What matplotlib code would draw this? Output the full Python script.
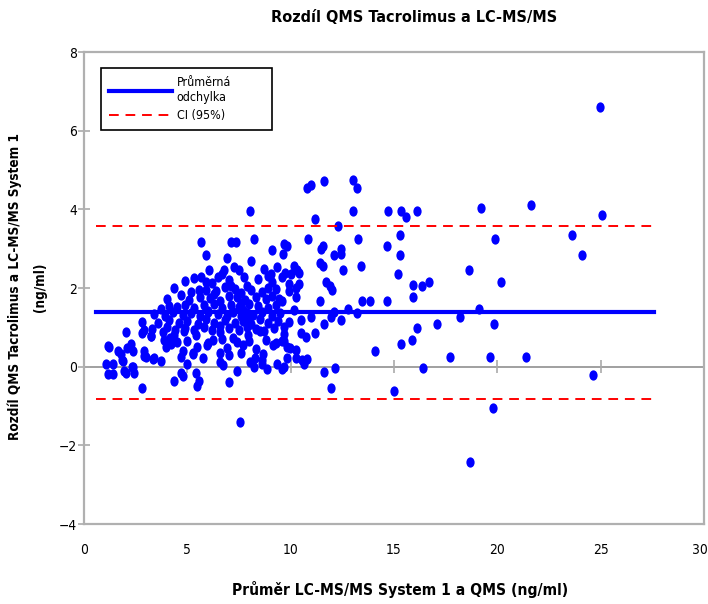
import matplotlib
matplotlib.use('Agg')
import matplotlib.pyplot as plt
from matplotlib.path import Path
import matplotlib.transforms as mtrans
from matplotlib import font_manager

# Bland-Altman data: average of the two methods (x) vs. difference (y)
avg = [
    # sparse part, x > ~9.5
    24.98, 10.77, 10.97, 11.63, 13.01, 13.20, 11.20, 12.30, 13.00, 14.70,
    15.35, 15.60, 16.09, 19.20, 21.64, 25.06, 10.85, 13.27, 15.31, 19.90,
    23.60, 24.10, 9.70, 9.65, 11.45, 11.58, 12.10, 12.42, 12.42, 14.64,
    15.27, 11.42, 11.58, 10.16, 10.40, 9.71, 12.55, 13.38, 15.18, 18.63,
    20.18, 11.69, 11.90, 12.01, 15.92, 16.35, 16.70, 15.92, 9.92, 10.40,
    10.24, 9.60, 11.40, 13.43, 13.86, 14.64, 10.16, 12.09, 11.93, 12.79,
    13.20, 19.10, 18.20, 10.48, 10.97, 12.42, 17.10, 19.84, 11.63, 9.68,
    9.68, 16.09, 11.16, 10.48, 10.72, 14.10, 15.36, 15.85, 9.84, 10.24,
    9.68, 17.73, 19.65, 21.40, 10.56, 10.64, 9.68, 11.63, 12.14, 16.41,
    11.95, 15.00, 24.65, 19.77, 18.68, 10.27, 10.80, 10.28,
    # left / middle part
    7.54, 8.02, 5.65, 5.89, 7.13, 7.34, 8.23, 9.08, 9.80, 6.94,
    8.07, 6.05, 6.77, 7.26, 7.50, 7.74, 8.71, 9.03, 9.36, 9.60,
    10.00, 10.32, 5.65, 5.89, 6.46, 6.70, 9.28, 9.43, 4.36, 4.69,
    5.17, 5.57, 4.12, 3.72, 3.40, 2.83, 2.91, 2.03, 1.22, 1.63,
    1.79, 2.27, 2.35, 1.87, 1.06, 1.39, 1.14, 1.39, 1.95, 2.35,
    2.43, 2.83, 3.00, 3.32, 3.72, 2.91, 3.24, 3.80, 3.96, 4.20,
    4.36, 4.77, 4.69, 5.00, 5.25, 5.49, 5.41, 5.57, 5.49, 7.02,
    7.42, 8.23, 8.63, 8.87, 9.36, 9.60, 1.15, 2.09, 1.85, 2.33,
    2.02, 2.82, 3.22, 2.89, 3.37, 3.86, 4.18, 4.34, 4.83, 4.67,
    6.57, 6.74, 8.02, 8.26, 8.59, 9.80, 5.44, 5.93, 6.25, 6.90,
    7.22, 7.70, 7.94, 8.51, 8.67, 9.15, 9.56, 9.95, 5.28, 5.77,
    6.57,
    # dense core
    4.9, 5.3, 6.2, 7.0, 7.9, 8.4, 9.1, 8.9,
    5.9, 6.4, 6.8, 7.3, 7.6, 8.1, 8.6, 8.9, 9.9, 7.1,
    4.0, 5.1, 5.6, 6.1, 6.6, 7.0, 7.4, 7.8, 8.3, 8.8, 9.1, 6.3, 7.6,
    4.5, 4.9, 5.3, 5.8, 6.3, 6.7, 7.1, 7.5, 7.7, 8.0, 8.4, 8.9, 9.3, 6.0,
    3.9, 4.3, 4.8, 5.2, 5.6, 6.0, 6.5, 6.9, 7.2, 7.6, 7.9, 8.2, 8.6, 9.1, 9.5, 8.0,
    3.6, 4.1, 4.6, 5.0, 5.5, 5.9, 6.3, 6.8, 7.3, 7.7, 8.1, 8.5, 8.9, 9.4, 9.9, 6.6,
    3.3, 4.0, 4.4, 4.9, 5.3, 5.8, 6.2, 6.6, 7.0, 7.5, 7.9, 8.3, 8.7, 9.2,
    4.5, 5.0, 6.0, 6.7, 7.4, 8.0, 8.8, 9.3, 4.8, 7.0, 7.6, 8.3,
]
diff = [
    6.61, 4.55, 4.62, 4.72, 4.74, 4.54, 3.76, 3.58, 3.95, 3.95,
    3.95, 3.80, 3.95, 4.03, 4.12, 3.85, 3.24, 3.24, 3.34, 3.24,
    3.34, 2.84, 3.12, 2.87, 3.00, 3.08, 2.84, 2.87, 3.00, 3.07,
    2.85, 2.63, 2.56, 2.57, 2.38, 2.38, 2.45, 2.56, 2.36, 2.45,
    2.14, 2.15, 2.05, 1.95, 2.08, 2.06, 2.14, 1.77, 2.10, 2.10,
    1.77, 1.68, 1.68, 1.68, 1.68, 1.68, 1.43, 1.38, 1.26, 1.47,
    1.37, 1.47, 1.26, 1.19, 1.26, 1.19, 1.09, 1.09, 1.09, 1.00,
    0.83, 0.99, 0.85, 0.86, 0.75, 0.41, 0.58, 0.68, 0.49, 0.43,
    0.66, 0.25, 0.25, 0.25, 0.17, 0.07, -0.02, -0.13, -0.03, -0.03,
    -0.53, -0.62, -0.20, -1.04, -2.42, 2.00, 0.20, 0.22,
    -1.40, 3.95, 3.17, 2.85, 3.17, 3.17, 3.25, 2.97, 3.08, 2.77,
    2.68, 2.47, 2.45, 2.53, 2.45, 2.28, 2.49, 2.36, 2.53, 2.28,
    2.36, 2.45, 2.28, 2.15, 2.28, 2.36, 1.98, 1.72, 2.00, 1.81,
    1.89, 1.94, 1.55, 1.47, 1.34, 1.13, 0.92, 0.87, 0.49, 0.41,
    0.32, 0.58, 0.41, 0.15, 0.07, 0.07, -0.19, -0.19, -0.10, -0.02,
    -0.15, -0.53, 0.24, 0.20, 0.15, 0.41, 0.79, 0.87, 0.49, 0.58,
    -0.36, -0.23, 0.24, 0.07, 0.32, 0.49, -0.15, -0.36, -0.48, -0.40,
    -0.10, -0.02, 0.07, -0.06, 0.07, -0.06, 0.52, 0.48, 0.18, 0.00,
    -0.16, 0.85, 0.77, 0.26, 0.22, 0.69, 0.73, 0.81, 0.90, -0.16,
    0.13, 0.05, 0.13, 0.22, 0.18, 0.22, 0.81, 0.56, 0.69, 0.48,
    0.73, 0.56, 0.81, 0.90, 0.31, 0.56, 0.64, 0.48, 0.35, 0.22,
    0.35,
    2.18, 2.25, 2.12, 2.20, 2.05, 2.22, 2.15, 2.30,
    1.95, 1.92, 2.02, 1.98, 1.88, 1.96, 1.90, 2.00, 1.92, 2.05,
    1.72, 1.70, 1.78, 1.74, 1.68, 1.80, 1.76, 1.70, 1.78, 1.72, 1.80, 1.85, 1.62,
    1.52, 1.58, 1.50, 1.56, 1.60, 1.48, 1.58, 1.52, 1.44, 1.60, 1.54, 1.50, 1.58, 1.42,
    1.30, 1.38, 1.32, 1.36, 1.28, 1.40, 1.34, 1.30, 1.38, 1.28, 1.36, 1.32, 1.40, 1.30, 1.36, 1.22,
    1.12, 1.18, 1.10, 1.16, 1.08, 1.20, 1.12, 1.18, 1.10, 1.16, 1.08, 1.20, 1.12, 1.16, 1.14, 1.04,
    0.96, 1.00, 0.92, 0.98, 0.94, 1.00, 0.92, 0.88, 0.98, 0.94, 1.00, 0.96, 0.90, 0.98,
    0.62, 0.66, 0.60, 0.70, 0.62, 0.66, 0.68, 0.60, 0.40, 0.30, 0.36, 0.44,
]

mean_diff = 1.38
ci_low = -0.82
ci_high = 3.58
line_x = [0.6, 27.6]

xticks = [0, 5, 10, 15, 20, 25, 30]
yticks = [-4, -2, 0, 2, 4, 6, 8]

# the original uses a bold condensed face; take a real sans condensed one if installed
base_fams = ['DejaVu Sans', 'Noto Sans', 'Roboto', 'Open Sans', 'Liberation Sans', 'Lato', 'Inter']
narrow = None
for f in font_manager.fontManager.ttflist:
    named = ('Condensed' in f.name or 'Narrow' in f.name) and 'Mono' not in f.name
    stretched = f.name in base_fams and f.stretch in ('condensed', 'semi-condensed')
    if (named or stretched) and f.weight in ('bold', 700, 'semibold', 600):
        narrow = f
        break
if narrow is not None:
    plt.rcParams['font.family'] = [narrow.name, 'DejaVu Sans']
    plt.rcParams['font.stretch'] = narrow.stretch
    k = 1.16
else:
    plt.rcParams['font.family'] = ['Roboto', 'DejaVu Sans']
    k = 1.0

fig = plt.figure(figsize=(7.08, 6.04), dpi=100)
ax = fig.add_axes([84 / 708, 80 / 604, 620 / 708, 472 / 604])

# slightly tall ellipse marker, like the original
ell = Path.unit_circle().transformed(mtrans.Affine2D().scale(0.8, 1.0))
ax.scatter(avg, diff, marker=ell, s=55, color='#0000ff', linewidths=0, zorder=3)

ax.axhline(0, color='#999999', lw=1.3, zorder=1)
ax.vlines(xticks[1:-1], -0.17, 0.17, color='#aaaaaa', lw=1.2, zorder=1)

ax.plot(line_x, [mean_diff, mean_diff], color='#0000ff', lw=3, zorder=4,
        label='Průměrná\nodchylka')
ax.plot(line_x, [ci_high, ci_high], color='#ff0000', lw=1.4, ls=(0, (5, 3.5)),
        zorder=4, label='CI (95%)')
ax.plot(line_x, [ci_low, ci_low], color='#ff0000', lw=1.4, ls=(0, (5, 3.5)), zorder=4)

ax.set_xlim(0, 30)
ax.set_ylim(-4, 8)
ax.set_xticks(xticks)
ax.set_yticks(yticks)
ax.tick_params(axis='x', length=0, pad=14, labelsize=8.5 * k)
ax.tick_params(axis='y', direction='inout', length=8, width=1.2, color='#aaaaaa',
               pad=1, labelsize=8.5 * k)
# the last x label sits on the figure edge, nudge it in a little
last = ax.get_xticklabels()[-1]
last.set_transform(last.get_transform() + mtrans.ScaledTranslation(-4 / 100, 0, fig.dpi_scale_trans))
for sp in ax.spines.values():
    sp.set_color('#b0b0b0')
    sp.set_linewidth(1.6)

leg = ax.legend(loc='upper left', bbox_to_anchor=(0.0274, 0.832, 0.276, 0.134),
                mode='expand', borderaxespad=0, fontsize=7.7 * k,
                handlelength=5.1, handletextpad=0.35, borderpad=0.65,
                labelspacing=0.4, fancybox=False, framealpha=1)
leg.get_frame().set_edgecolor('black')
leg.get_frame().set_linewidth(1.2)

fig.text(414 / 708, 1 - 18 / 604, 'Rozdíl QMS Tacrolimus a LC-MS/MS',
         ha='center', va='center', fontsize=10 * k, fontweight='bold')
fig.text(400 / 708, 1 - 590 / 604, 'Průměr LC-MS/MS System 1 a QMS (ng/ml)',
         ha='center', va='center', fontsize=9.6 * k, fontweight='bold')
fig.text(27 / 708, 1 - 287 / 604, 'Rozdíl QMS Tacrolimus a LC-MS/MS System 1\n(ng/ml)',
         ha='center', va='center', rotation=90, fontsize=8.4 * k, fontweight='bold',
         multialignment='center', linespacing=2.0)

fig.savefig('out.png', dpi=100)
